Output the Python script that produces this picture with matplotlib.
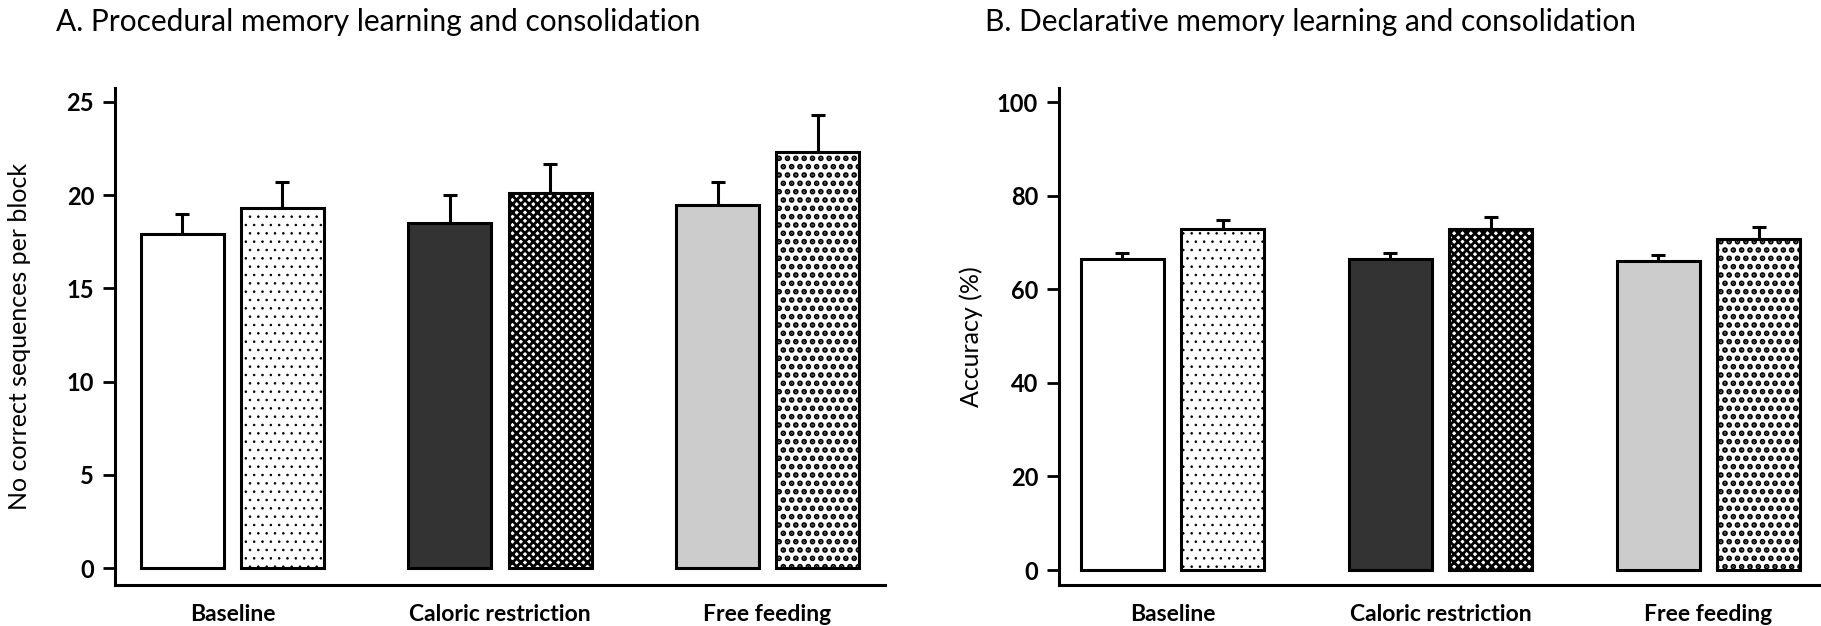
import matplotlib
matplotlib.use("Agg")
import matplotlib.pyplot as plt
import numpy as np

# ---- datos ----
categories = ["Baseline", "Caloric restriction", "Free feeding"]

proc_pre = [17.9, 18.5, 19.5]
proc_pre_err = [1.1, 1.5, 1.2]
proc_post = [19.3, 20.1, 22.3]
proc_post_err = [1.4, 1.6, 2.0]

decl_pre = [66.4, 66.4, 66.0]
decl_pre_err = [1.4, 1.3, 1.4]
decl_post = [72.9, 72.9, 70.7]
decl_post_err = [1.8, 2.6, 2.6]

yticks_a = [0, 5, 10, 15, 20, 25]
yticks_b = [0, 20, 40, 60, 80, 100]

# ---- estilo ----
plt.rcParams['font.family'] = ['Lato', 'DejaVu Sans']
pre_colors = ['white', '#333333', '#cccccc']
post_hatch = ['..', 'xxxx', '..']
post_hlw = [0.6, 2.0, 2.8]

W, H = 1821, 626
fig = plt.figure(figsize=(W / 100, H / 100), dpi=100, facecolor='w')


def px_axes(left, top, right, bottom):
    return fig.add_axes([left / W, 1 - bottom / H, (right - left) / W, (bottom - top) / H])


def panel(ax, pre, pre_err, post, post_err, yticks, ylim, xlim, ylabel, title, tx):
    x = np.arange(len(categories))
    bw = 0.31
    off = 0.187
    for i in range(len(categories)):
        ax.bar(x[i] - off, pre[i], bw, color=pre_colors[i], edgecolor='k', linewidth=2.2, zorder=2)
        ax.errorbar(x[i] - off, pre[i], yerr=[[0], [pre_err[i]]], fmt='none', ecolor='k',
                    elinewidth=2.2, capsize=5, capthick=2.2, zorder=1)
        plt.rcParams['hatch.linewidth'] = post_hlw[i]
        ax.bar(x[i] + off, post[i], bw, color='white', edgecolor='k', hatch=post_hatch[i],
               linewidth=2.2, zorder=2)
        ax.errorbar(x[i] + off, post[i], yerr=[[0], [post_err[i]]], fmt='none', ecolor='k',
                    elinewidth=2.2, capsize=5, capthick=2.2, zorder=1)
    ax.set_ylim(ylim)
    ax.set_xlim(xlim)
    ax.set_yticks(yticks)
    ax.set_yticklabels([str(t) for t in yticks], fontsize=17, fontweight='bold')
    ax.set_xticks(x)
    ax.set_xticklabels(categories, fontsize=16.5, fontweight='bold')
    ax.tick_params(axis='x', length=0, pad=14)
    ax.tick_params(axis='y', length=9, width=2, pad=6)
    ax.spines['top'].set_visible(False)
    ax.spines['right'].set_visible(False)
    ax.spines['left'].set_linewidth(2.2)
    ax.spines['bottom'].set_linewidth(2.2)
    ax.set_ylabel(ylabel, fontsize=18)
    fig.text(tx / W, 1 - 22 / H, title, fontsize=21.5, ha='left', va='center')


# Panel A
axA = px_axes(115, 88, 885, 585)
panel(axA, proc_pre, proc_pre_err, proc_post, proc_post_err, yticks_a,
      (-0.91, 25.75), (-0.439, 2.439), 'No correct sequences per block',
      'A. Procedural memory learning and consolidation', 56)
axA.yaxis.set_label_coords(-0.109, 0.5)

# Panel B
axB = px_axes(1059, 88, 1821, 585)
panel(axB, decl_pre, decl_pre_err, decl_post, decl_post_err, yticks_b,
      (-3.2, 103.0), (-0.4235, 2.42), 'Accuracy (%)',
      'B. Declarative memory learning and consolidation', 985)
axB.yaxis.set_label_coords(-0.10, 0.5)

plt.savefig("out.png", dpi=100)
